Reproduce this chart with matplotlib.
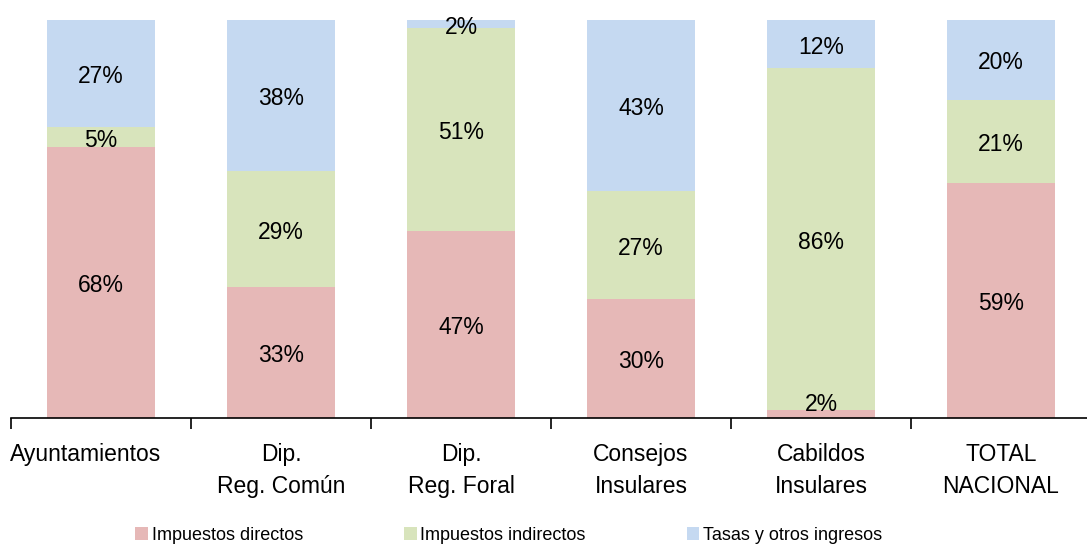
import numpy as np
import matplotlib.pyplot as plt
import matplotlib.transforms as mtransforms
from matplotlib.ticker import FixedLocator

# datos
categorias = ['Ayuntamientos', 'Dip.\nReg. Común', 'Dip.\nReg. Foral',
              'Consejos\nInsulares', 'Cabildos\nInsulares', 'TOTAL\nNACIONAL']
directos = [68, 33, 47, 30, 2, 59]
indirectos = [5, 29, 51, 27, 86, 21]
tasas = [27, 38, 2, 43, 12, 20]
series_nombres = ['Impuestos directos', 'Impuestos indirectos', 'Tasas y otros ingresos']
colores = ['#E6B8B7', '#D8E4BC', '#C5D9F1']

plt.rcParams['font.family'] = ['Liberation Sans', 'DejaVu Sans']

fig = plt.figure(figsize=(10.87, 5.44), dpi=100)
ax = fig.add_axes([11 / 1087, 126 / 544, 1080 / 1087, 398 / 544])

x = np.arange(len(categorias))
fondo = np.zeros(len(categorias))
for valores, nombre, color in zip([directos, indirectos, tasas], series_nombres, colores):
    valores = np.array(valores, dtype=float)
    ax.bar(x, valores, 0.6, bottom=fondo, color=color, label=nombre)
    for xi, b, v in zip(x, fondo, valores):
        yc = max(b + v / 2, 4.3) - 0.8
        ax.text(xi, yc, f'{v:.0f}%', ha='center', va='center', fontsize=16.5, color='black')
    fondo += valores

ax.set_xlim(-0.5, len(categorias) - 0.5)
ax.set_ylim(0, 100)
ax.set_yticks([])
for lado in ['top', 'right', 'left']:
    ax.spines[lado].set_visible(False)
ax.spines['bottom'].set_linewidth(1.2)

# marcas entre categorias
ax.xaxis.set_major_locator(FixedLocator(np.arange(-0.5, len(categorias), 1.0)))
ax.xaxis.set_major_formatter(plt.NullFormatter())
ax.tick_params(axis='x', which='major', length=8, width=1.2, direction='out')
ax.xaxis.set_minor_locator(FixedLocator(x))
ax.set_xticklabels(categorias, minor=True, fontsize=16.5, linespacing=1.5)
ax.tick_params(axis='x', which='minor', length=0, pad=18)
# la primera etiqueta queda algo desplazada a la izquierda
lab0 = ax.xaxis.get_minor_ticks()[0].label1
lab0.set_transform(lab0.get_transform() + mtransforms.ScaledTranslation(-15 / 100, 0, fig.dpi_scale_trans))

fig.legend(loc='lower center', bbox_to_anchor=(0.468, -0.03), ncol=3, frameon=False,
           fontsize=13, handlelength=0.7, handleheight=0.7, handletextpad=0.2,
           columnspacing=5.6)

fig.savefig('out.png', dpi=100)
